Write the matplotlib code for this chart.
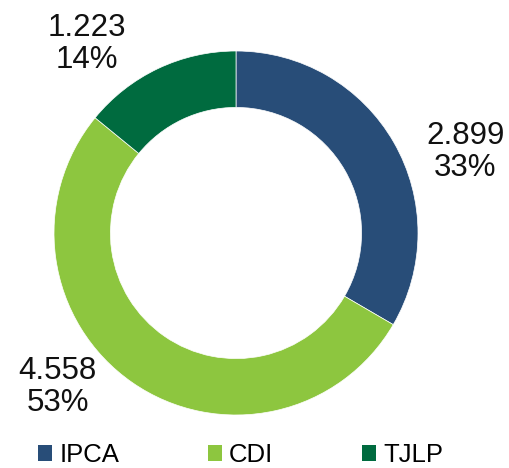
import matplotlib
matplotlib.use('Agg')
import matplotlib.pyplot as plt
from matplotlib.patches import Patch

plt.rcParams['font.family'] = ['Liberation Sans', 'DejaVu Sans']

categories = ['IPCA', 'CDI', 'TJLP']
values = [2.899, 4.558, 1.223]
value_labels = ['2.899', '4.558', '1.223']
colors = ['#284d78', '#8dc63f', '#006b3f']

# label centres in axis units (donut radius = 1)
label_pos = [(1.26, 0.445), (-0.98, -0.846), (-0.82, 1.04)]

W, H = 510, 468
cx, cy, R = 236, 233, 182

fig = plt.figure(figsize=(W / 100, H / 100), dpi=100)
ax = fig.add_axes([0, 0, 1, 1])

wedges, _ = ax.pie(values, colors=colors, startangle=90, counterclock=False,
                   radius=1, wedgeprops=dict(width=0.31, edgecolor='white', linewidth=0.5))

total = sum(values)
for v, lab, (x, y) in zip(values, value_labels, label_pos):
    ax.text(x, y, '%s\n%d%%' % (lab, round(v / total * 100)), ha='center', va='center',
            fontsize=22.5, color='#111111', linespacing=1.1)

ax.set_xlim(-cx / R, (W - cx) / R)
ax.set_ylim(-(H - cy) / R, cy / R)
ax.set_aspect('auto')
ax.axis('off')

handles = [Patch(facecolor=c, edgecolor='none') for c in colors]
fig.legend(handles, categories, loc='lower left', bbox_to_anchor=(38 / W, 0.002),
           ncol=3, frameon=False, fontsize=18.5, handlelength=0.55, handleheight=0.55,
           handletextpad=0.28, columnspacing=3.45, borderpad=0, borderaxespad=0)

fig.savefig('out.png', dpi=100)
